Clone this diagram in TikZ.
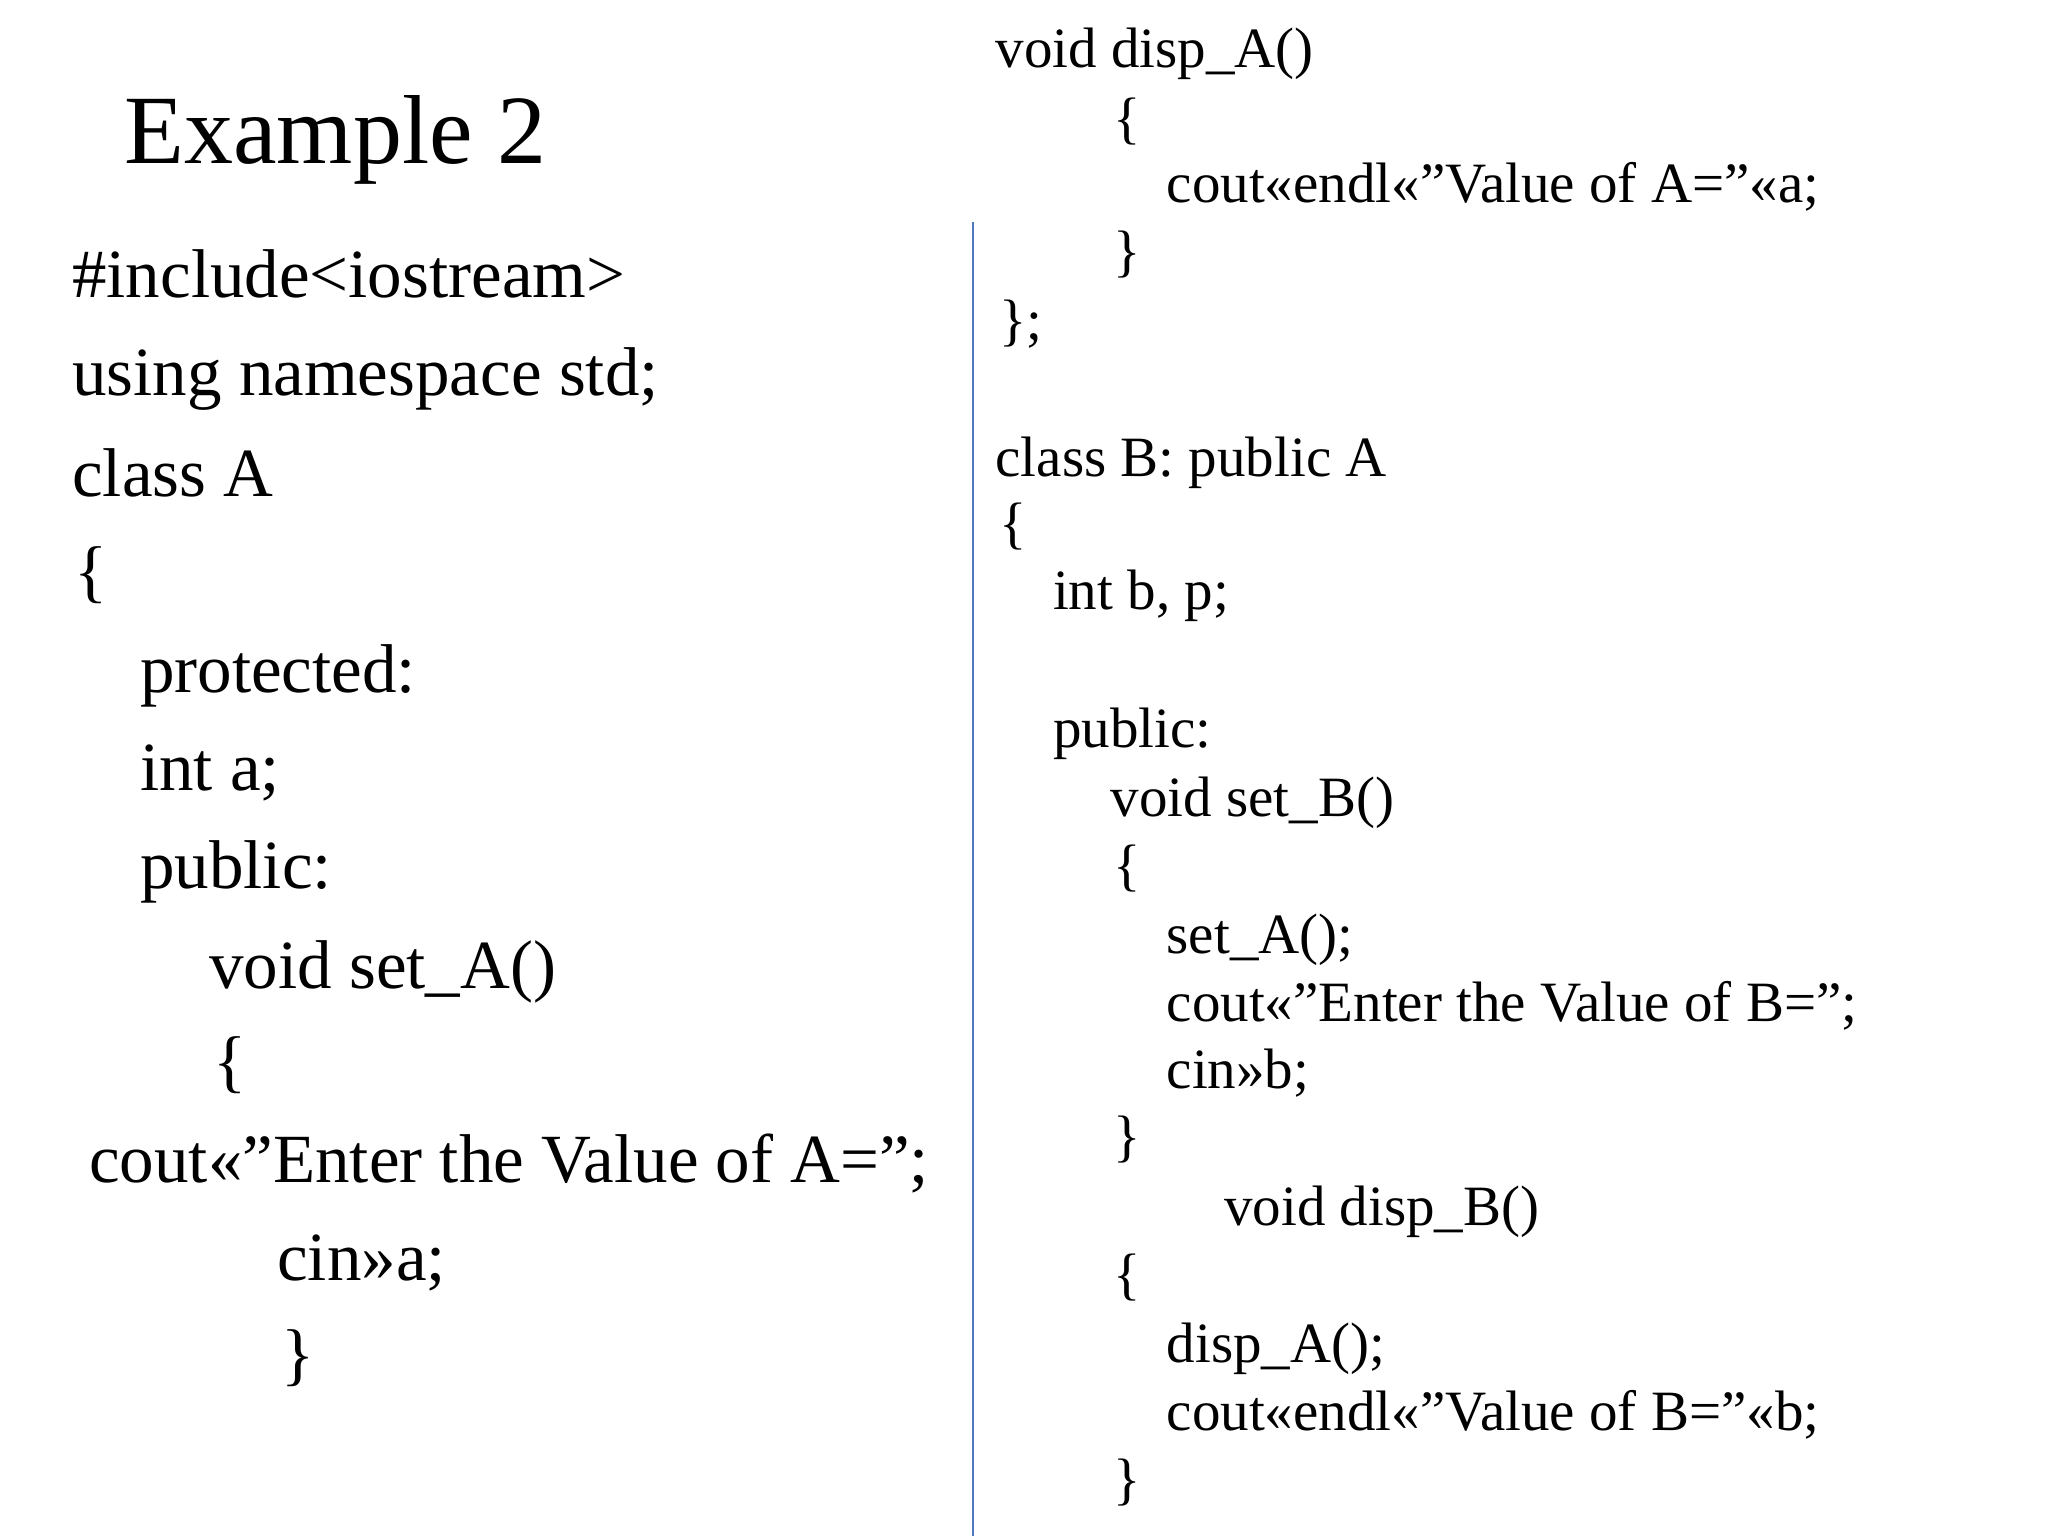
\documentclass[tikz,border=0pt]{standalone}
\usepackage{fontspec}
\setmainfont{Liberation Serif}
\begin{document}
\begin{tikzpicture}[x=0.653pt,y=-0.653pt,
 L/.style={anchor=base west,inner sep=0pt,font=\fontsize{34.5}{40}\selectfont},
 R/.style={anchor=base west,inner sep=0pt,font=\fontsize{28.5}{34}\selectfont},
 T/.style={anchor=base west,inner sep=0pt,font=\fontsize{49}{56}\selectfont}]
\useasboundingbox (0,0) rectangle (1568,1176);
\node[T] (t) at (95,125) {Example 2};
\node[L] (l1) at (55,228) {\#include<iostream>};
\node[L] (l2) at (55,303) {using namespace std;};
\node[L] (l3) at (55,380) {class A};
\node[L] (l4) at (57,455) {\{};
\node[L] (l5) at (107,530) {protected:};
\node[L] (l6) at (107,605) {int a;};
\node[L] (l7) at (107,680) {public:};
\node[L] (l8) at (160,757) {void set\_A()};
\node[L] (l9) at (163,830) {\{};
\node[L] (l10) at (68,905) {cout<<"Enter the Value of A=";};
\node[L] (l11) at (212,980) {cin>>a;};
\node[L] (l12) at (215,1055) {\}};
\draw[color={rgb,255:red,80;green,120;blue,190},line width=1pt] (745,170) coordinate (va) -- (745,1176) coordinate (vb);
\node[R] (r1) at (762,52) {void disp\_A()};
\node[R] (r2) at (852,105) {\{};
\node[R] (r3) at (893,155) {cout<<endl<<"Value of A="<<a;};
\node[R] (r4) at (852,207) {\}};
\node[R] (r5) at (765,260) {\};};
\node[R] (r6) at (762,365) {class B: public A};
\node[R] (r7) at (765,415) {\{};
\node[R] (r8) at (806,467) {int b, p;};
\node[R] (r9) at (806,572) {public:};
\node[R] (r10) at (850,625) {void set\_B()};
\node[R] (r11) at (852,677) {\{};
\node[R] (r12) at (893,730) {set\_A();};
\node[R] (r13) at (893,782) {cout<<"Enter the Value of B=";};
\node[R] (r14) at (893,833) {cin>>b;};
\node[R] (r15) at (852,885) {\}};
\node[R] (r16) at (937,938) {void disp\_B()};
\node[R] (r17) at (852,990) {\{};
\node[R] (r18) at (893,1043) {disp\_A();};
\node[R] (r19) at (893,1095) {cout<<endl<<"Value of B="<<b;};
\node[R] (r20) at (852,1147) {\}};
\end{tikzpicture}
\end{document}
